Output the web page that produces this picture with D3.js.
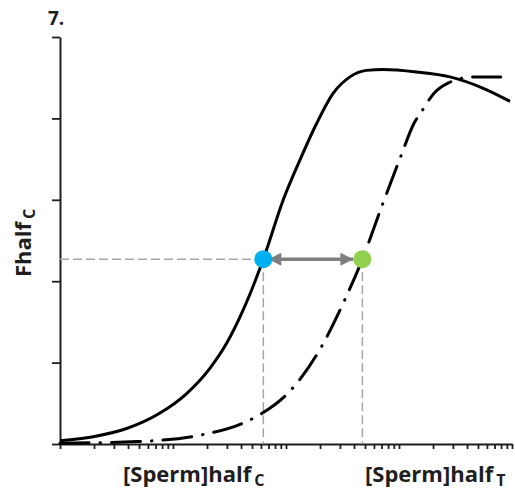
<!DOCTYPE html>
<html>
<head>
<meta charset="utf-8">
<script src="https://cdn.jsdelivr.net/npm/d3@7"></script>
<style>
  html, body { margin: 0; padding: 0; background: #fff; }
  svg { display: block; font-family: "Open Sans", "DejaVu Sans", sans-serif; }
</style>
</head>
<body>
<svg id="chart" width="515" height="498"></svg>
<script>
// Sperm concentration (log scale) vs. fertilisation response
const controlConc = [1, 1.97, 3.89, 7.67, 13.2, 21.2, 29.9, 41.9, 63, 94.6, 133, 187, 262, 368, 517, 726, 1432, 2825, 5572, 9600];
const controlResp = [0.04, 0.09, 0.19, 0.38, 0.62, 0.93, 1.24, 1.65, 2.27, 3.00, 3.49, 3.94, 4.31, 4.51, 4.59, 4.60, 4.57, 4.51, 4.37, 4.21];

const treatedConc = [1, 4.84, 17.6, 47.1, 61.9, 110, 203, 326, 474, 713, 1035, 1358, 1611, 2042, 2770, 3513, 4580, 7940];
const treatedResp = [0.01, 0.03, 0.11, 0.29, 0.38, 0.66, 1.18, 1.75, 2.27, 2.94, 3.53, 3.94, 4.10, 4.31, 4.44, 4.49, 4.51, 4.51];

// Half-maximal points: [Sperm]half for control (C) and treatment (T)
const halfConc = [63, 474];
const halfResp = 2.27;
const halfColors = ["#00b0f0", "#92d050"];

const yTicks = [0, 1, 2, 3, 4, 5];
const panelLabel = "7.";

const svg = d3.select("#chart");
const ink = "#1e1e1e";

const x = d3.scaleLog().domain([1, 10000]).range([60, 512]);
const y = d3.scaleLinear().domain([0, 5]).range([444, 37]);

// log minor ticks: 1..9 per decade
const xTicks = [];
for (let d = 0; d < 4; d++) for (let m = 1; m <= 9; m++) xTicks.push(m * Math.pow(10, d));
xTicks.push(10000);

// axes
const gx = svg.append("g").attr("transform", "translate(0,444)")
  .call(d3.axisBottom(x).tickValues(xTicks).tickSize(5).tickSizeOuter(0).tickFormat(""));
const gy = svg.append("g").attr("transform", "translate(60,0)")
  .call(d3.axisLeft(y).tickValues(yTicks).tickSize(8).tickSizeOuter(0).tickFormat(""));
[gx, gy].forEach(g => {
  g.select(".domain").attr("stroke", ink).attr("stroke-width", 2);
  g.selectAll(".tick line").attr("stroke", ink).attr("stroke-width", 1.8);
});

// guide lines
const guide = svg.append("g").attr("stroke", "#a6a6a6").attr("stroke-width", 1.5)
  .attr("stroke-dasharray", "9,4").attr("fill", "none");
guide.append("line")
  .attr("x1", x(1)).attr("x2", x(halfConc[0]))
  .attr("y1", y(halfResp)).attr("y2", y(halfResp));
halfConc.forEach(c => {
  guide.append("line")
    .attr("x1", x(c)).attr("x2", x(c))
    .attr("y1", y(halfResp)).attr("y2", y(0));
});

// curves
const line = d3.line().x(d => x(d[0])).y(d => y(d[1])).curve(d3.curveMonotoneX);
svg.append("path")
  .attr("d", line(controlConc.map((c, i) => [c, controlResp[i]])))
  .attr("fill", "none").attr("stroke", "#000").attr("stroke-width", 3);
svg.append("path")
  .attr("d", line(treatedConc.map((c, i) => [c, treatedResp[i]])))
  .attr("fill", "none").attr("stroke", "#000").attr("stroke-width", 3)
  .attr("stroke-linecap", "round").attr("stroke-dasharray", "29 11 0.5 11");

// double-headed arrow between the half-maximal points
const defs = svg.append("defs");
defs.append("marker").attr("id", "head").attr("viewBox", "0 0 10 10")
  .attr("refX", 10).attr("refY", 5).attr("markerWidth", 14).attr("markerHeight", 13)
  .attr("markerUnits", "userSpaceOnUse").attr("orient", "auto-start-reverse")
  .append("path").attr("d", "M0,0L10,5L0,10Z").attr("fill", "#7f7f7f");
svg.append("line")
  .attr("x1", x(halfConc[0]) + 5).attr("x2", x(halfConc[1]) - 9)
  .attr("y1", y(halfResp)).attr("y2", y(halfResp))
  .attr("stroke", "#7f7f7f").attr("stroke-width", 3.5)
  .attr("marker-start", "url(#head)").attr("marker-end", "url(#head)");

// half points
svg.selectAll("circle.half").data(halfConc).join("circle")
  .attr("class", "half")
  .attr("cx", d => x(d)).attr("cy", y(halfResp)).attr("r", 9)
  .attr("fill", (d, i) => halfColors[i]);

// text
svg.append("text").attr("x", 48).attr("y", 25)
  .attr("font-size", 19).attr("font-weight", 700).attr("fill", ink).text(panelLabel);

const yl = svg.append("text").attr("transform", "translate(31,277) rotate(-90)")
  .attr("font-size", 22).attr("font-weight", 700).attr("fill", ink);
yl.append("tspan").text("Fhalf");
yl.append("tspan").attr("dx", 3).attr("dy", 4).attr("font-size", 16).text("C");

function xLabel(x0, sub) {
  const t = svg.append("text").attr("x", x0).attr("y", 482)
    .attr("font-size", 22).attr("font-weight", 700).attr("fill", ink);
  t.append("tspan").text("[Sperm]half");
  t.append("tspan").attr("dx", 3).attr("dy", 4).attr("font-size", 16).text(sub);
}
xLabel(123, "C");
xLabel(365, "T");
</script>
</body>
</html>
